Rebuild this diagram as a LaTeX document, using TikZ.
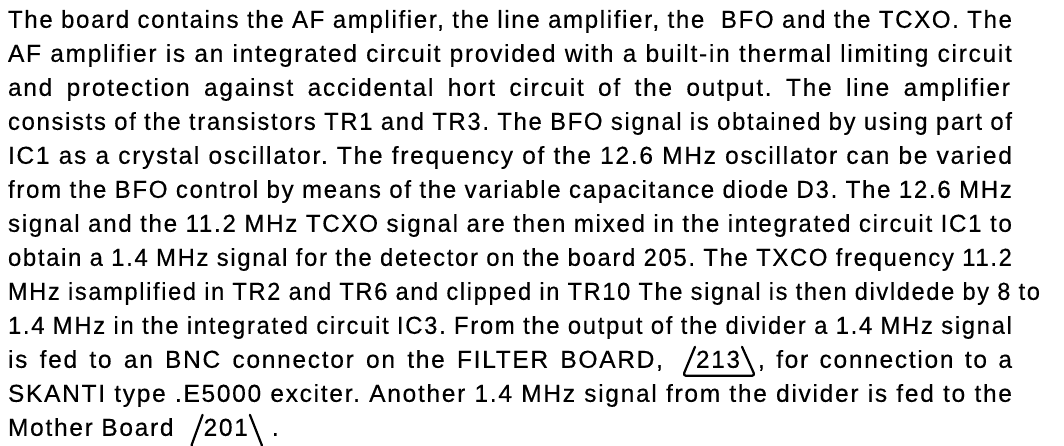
\documentclass[tikz,border=0pt]{standalone}
\usepackage{fontspec}
\usepackage{graphicx}
\setmainfont{Liberation Sans}[LetterSpace=7, FakeBold=0.4]
\usetikzlibrary{calc}
\frenchspacing
\newsavebox\jbox
\newcommand\jline[2]{\sbox\jbox{#2}\ifdim\wd\jbox>#1\relax\resizebox{#1}{\height}{\usebox\jbox}\else\hbox to #1{#2}\fi}
\tikzset{
  txt/.style={inner sep=0pt, outer sep=0pt, font=\fontsize{24.5}{27}\selectfont\frenchspacing},
  tri/.style={line width=2.2pt, rounded corners=3pt, line join=round, line cap=round}
}
\begin{document}
\begin{tikzpicture}[x=1pt,y=1pt]
\useasboundingbox (0,0) rectangle (1064,-446);
\clip (0,0) rectangle (1064,-446);
\fill[white] (0,0) rectangle (1064,-446);
\node[txt, anchor=base west] (l1) at (8,-27.8) {\jline{1004pt}{The board contains the AF amplifier, the line amplifier, the~ BFO and the TCXO. The}};
\node[txt, anchor=base west] (l2) at (8,-61.8) {\jline{1004pt}{AF amplifier is an integrated circuit provided with a built-in thermal limiting circuit}};
\node[txt, anchor=base west] (l3) at (8,-95.8) {\jline{1002pt}{and protection against accidental hort circuit of the output. The line amplifier}};
\node[txt, anchor=base west] (l4) at (8,-129.8) {\jline{1004pt}{consists of the transistors TR1 and TR3. The BFO signal is obtained by using part of}};
\node[txt, anchor=base west] (l5) at (8,-163.8) {\jline{1004pt}{IC1 as a crystal oscillator. The frequency of the 12.6 MHz oscillator can be varied}};
\node[txt, anchor=base west] (l6) at (8,-197.8) {\jline{1004pt}{from the BFO control by means of the variable capacitance diode D3. The 12.6 MHz}};
\node[txt, anchor=base west] (l7) at (8,-231.8) {\jline{1004pt}{signal and the 11.2 MHz TCXO signal are then mixed in the integrated circuit IC1 to}};
\node[txt, anchor=base west] (l8) at (8,-265.8) {\jline{1004pt}{obtain a 1.4 MHz signal for the detector on the board 205. The TXCO frequency 11.2}};
\node[txt, anchor=base west] (l9) at (8,-299.8) {\jline{1032pt}{MHz isamplified in TR2 and TR6 and clipped in TR10 The signal is then divldede by 8 to}};
\node[txt, anchor=base west] (l10) at (8,-333.8) {\jline{1004pt}{1.4 MHz in the integrated circuit IC3. From the output of the divider a 1.4 MHz signal}};
\node[txt, anchor=base west] (l11a) at (8,-367.8) {\jline{655pt}{is fed to an BNC connector on the FILTER BOARD,}};
\node[txt, anchor=base west] (n213) at (696,-367.8) {\jline{44pt}{213}};
\node[txt, anchor=base east] (l11b) at (1012,-367.8) {\jline{254pt}{, for connection to a}};
\node[txt, anchor=base west] (l12) at (8,-401.8) {\jline{1004pt}{SKANTI type .E5000 exciter. Another 1.4 MHz signal from the divider is fed to the}};
\node[txt, anchor=base west] (l13) at (8,-435.8) {Mother Board};
\node[txt, anchor=base west] (n201) at ([xshift=30pt]l13.base east) {201};
\node[txt, anchor=base west] (dot) at ([xshift=24pt]n201.base east) {.};
\coordinate (a1) at ($(n213.base west)+(-1,21)$);
\coordinate (a2) at ($(n213.base west)+(-13,-8)$);
\coordinate (a3) at ($(n213.base east)+(15,-8)$);
\coordinate (a4) at ($(n213.base east)+(2,21)$);
\draw[tri] (a1) -- (a2) -- (a3) -- (a4);
\coordinate (b1) at ($(n201.base west)+(-1,21)$);
\coordinate (b2) at ($(n201.base west)+(-13,-12)$);
\coordinate (b3) at ($(n201.base east)+(15,-12)$);
\coordinate (b4) at ($(n201.base east)+(2,21)$);
\draw[tri] (b1) -- (b2) -- (b3) -- (b4);
\end{tikzpicture}
\end{document}
